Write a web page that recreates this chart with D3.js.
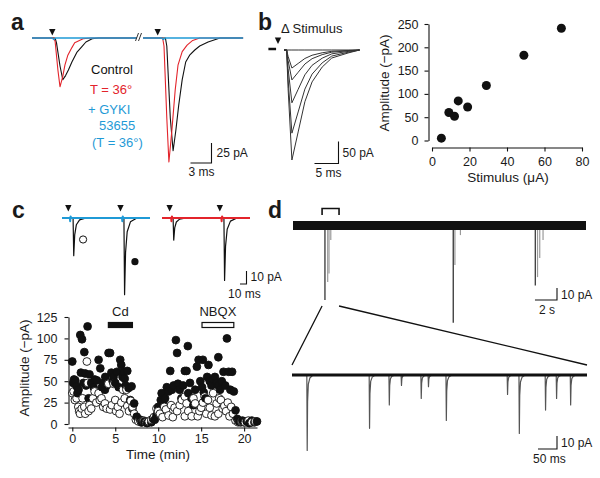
<!DOCTYPE html>
<html><head><meta charset="utf-8">
<script src="https://cdn.jsdelivr.net/npm/d3@7"></script>
<style>
body{margin:0;background:#fff}
svg{display:block}
text{font-family:"Liberation Sans",Arial,Helvetica,sans-serif;fill:#1a1a1a}
</style>
</head><body>
<svg id="fig" width="600" height="478"></svg>
<script>
// ---------------- DATA ----------------
const colors = {ctl:"#111111", warm:"#e3242b", gyki:"#1f9ad6", trace:"#333333"};
// Panel a: evoked EPSCs (time ms, current pA), two sweeps
const aCtl1T = [0,3.3,3.5,4.0,4.4,4.8,5.2,5.7,6.4,7.1,7.7,8.6,9.5,15];
const aCtl1V = [0,0,-6,-35,-52,-47,-40,-30,-18,-11,-5,-1,0,0];
const aRed1T = [0,3.1,3.3,3.7,4.0,4.4,4.7,5.1,5.7,6.1,7.3,8.5,15];
const aRed1V = [0,0,-4,-40,-61,-48,-34,-22,-12,-6,-1,0,0];
const aGyk1T = [0,2.9,3.1,3.4,15];
const aGyk1V = [0,0,-2,0,0];
const aCtl2T = [0,3.2,3.4,3.9,4.3,4.7,5.1,5.6,6.1,6.7,7.4,8.1,9.3,11,14.3];
const aCtl2V = [0,0,-10,-100,-141,-115,-84,-52,-30,-21,-15,-10,-5,0,0];
const aRed2T = [0,2.8,3.0,3.4,3.7,4.1,4.6,5.0,5.6,6.3,7.1,8.1,14.3];
const aRed2V = [0,0,-10,-100,-155,-118,-65,-34,-17,-9,-3,0,0];
const aGyk2T = [0,2.7,2.9,3.2,14.3];
const aGyk2V = [0,0,-2,0,0];
const aStim = [2.9, 2.1];
const aLegend = ["Control","T = 36°","+ GYKI","53655","(T = 36°)"];
// Panel b: traces at increasing stimulus
const bPeaks = [0, 41, 68, 120, 189, 250];
const bOnset = 1.8;
const bKernelT = [0,0.3,1.1,2.4,3.8,5.3,7.4,9.4,12.8,15.2];
const bKernelV = [0,0.35,1,0.745,0.47,0.29,0.155,0.073,0.027,0];
// Panel b: amplitude vs stimulus
const bStimulus = [5, 9, 12, 14, 19, 29, 49, 69];
const bAmplitude = [5, 60, 52, 85, 72, 118, 183, 241];
const bXTicks = [0,20,40,60,80];
const bYTicks = [0,50,100,150,200,250];
// Panel c: paired-pulse traces
const cStimBlue = [12, 92], cStimRed = [14, 91];
const cEventT = [17, 95];
const cBlueAmp = [29, 59], cRedAmp = [17, 48];
const cKernelT = [0,1,2.5,5,10,20];
const cKernelV = [0,1,0.45,0.18,0.05,0];
// Panel c: amplitude vs time (filled = 2nd response, open = 1st response)
const cFilledT = [0.0,0.1,0.2,0.35,0.5,0.6,0.73,0.93,1.0,1.13,1.3,1.4,1.5,1.6,1.78,1.9,2.0,2.2,2.48,2.6,2.87,3.06,3.26,3.45,3.6,3.8,3.84,4.0,4.22,4.4,4.55,4.7,4.8,5.0,5.2,5.4,5.58,5.7,5.85,5.97,6.1,6.2,6.4,6.55,6.74,6.9,7.0,7.2,7.5,7.7,7.9,8.1,8.4,8.7,8.9,9.2,9.4,9.6,9.8,10.0,10.3,10.4,10.6,10.8,11.0,11.2,11.4,11.6,11.8,12.06,12.2,12.3,12.5,12.7,12.9,13.1,13.3,13.45,13.5,13.7,13.9,14.1,14.3,14.5,14.7,14.9,15.1,15.2,15.3,15.5,15.7,15.85,16.0,16.2,16.4,16.6,16.8,17.0,17.0,17.2,17.4,17.6,17.8,18.0,18.2,18.4,18.6,18.8,19.0,19.2,19.4,19.6,19.8,20.0,20.3,20.6,20.9,21.2,21.5];
const cFilledA = [73,48,52,51,44,36,40,104,60,99,48,84,59,45,114,30,58,48,43,52,51,75,65,43,48,40,55,45,83,83,60,50,55,48,61,43,75,69,55,61,53,45,62,42,28,44,18,24,8.5,4,5,2,3,1,3,2,6,5,10,20,28,36,24,30,43,38,62,40,45,98,83,47,40,30,45,62,62,91,36,48,30,22,40,67,75,50,43,75,37,30,55,69,50,45,52,55,48,45,78,40,50,61,45,100,61,40,61,38,16,6,3,2,4,2,3,1,4,2,3];
const cOpenT = [0.0,0.15,0.3,0.5,0.7,0.8,0.9,1.1,1.2,1.4,1.5,1.7,1.8,1.9,2.0,2.2,2.4,2.6,2.8,3.06,3.2,3.4,3.6,3.8,4.0,4.2,4.4,4.6,4.8,5.0,5.1,5.3,5.5,5.7,5.9,6.1,6.3,6.4,6.6,6.8,7.0,7.2,7.4,7.7,8.0,8.3,8.6,8.9,9.2,9.5,9.8,10.0,10.2,10.5,10.7,10.9,11.2,11.5,11.7,11.9,12.2,12.5,12.75,13.1,13.1,13.3,13.5,13.9,14.1,14.3,14.6,14.8,15.0,15.2,15.4,15.6,15.8,16.0,16.2,16.4,16.6,16.8,17.0,17.1,17.3,17.5,17.7,17.9,18.1,18.3,18.5,18.7,19.0,19.3,19.7,20.1,20.5,20.9,21.3];
const cOpenA = [36,38,28,30,20,15,12,18,30,20,12,73,48,15,22,18,30,38,25,36,28,30,20,24,18,47,17,22,47,28,15,20,12,25,40,30,40,21,15,27,20,12,5,3,2,4,2,3,5,8,18,15,12,8,20,17,10,22,8,19,15,22,28,32,9,24,15,9,30,24,9,15,19,25,32,12,28,19,10,36,9,24,12,30,28,18,21,15,25,9,20,12,4,2,3,2,4,2,3];
const cDrugs = ["Cd","NBQX"];
const cDrugStart = [4.2, 15.1], cDrugEnd = [7.0, 18.8];
const cXTicks = [0,5,10,15,20];
const cYTicks = [0,25,50,75,100,125];
// Panel d: spontaneous events
const dTopT = [2.9, 3.15, 3.27, 3.43, 14.55, 14.7, 15.2, 22.0, 22.2, 22.4, 22.7];
const dTopA = [62, 47, 40, 12, 81, 33, 8, 50, 43, 27, 12];
const dTopMain = [1,0,0,0,1,0,0,1,0,0,0];
const dBracket = [2.64, 4.18];
const dBotT = [39, 203, 255, 287, 339, 358, 405, 566, 597, 666, 695, 732];
const dBotA = [58, 41, 23, 8, 18, 9, 35, 15, 45, 27, 18, 23];
const dKernelT = [0,1,2,4,8,16];
const dKernelV = [0,1,0.35,0.12,0.04,0];

// ---------------- HELPERS ----------------
const svg = d3.select("#fig");
const zip = (T,V) => T.map((t,i)=>[t,V[i]]);
function synth(onsets, amps, kT, kV, t0, tEnd){
  const span = kT[kT.length-1];
  let ts = [t0, tEnd];
  onsets.forEach(e => kT.forEach(k => ts.push(e+k)));
  ts = Array.from(new Set(ts)).filter(t=>t>=t0&&t<=tEnd).sort((a,b)=>a-b);
  const k = d3.scaleLinear().domain(kT).range(kV).clamp(true);
  return ts.map(t => [t, -d3.sum(onsets, (e,i) => (t>=e && t<=e+span) ? amps[i]*k(t-e) : 0)]);
}
function drawLine(pts, xs, ys, color, w){
  svg.append("path").datum(pts)
    .attr("d", d3.line().x(d=>xs(d[0])).y(d=>ys(d[1])))
    .attr("fill","none").attr("stroke",color).attr("stroke-width",w)
    .attr("stroke-linejoin","round");
}
function arrow(x, yTop){
  svg.append("path").attr("d",`M${x-3.2},${yTop}L${x+3.2},${yTop}L${x},${yTop+6.5}Z`).attr("fill","#111");
}
function txt(x,y,s,opt={}){
  return svg.append("text").attr("x",x).attr("y",y).text(s)
    .attr("font-size",opt.size||12).attr("text-anchor",opt.anchor||"start")
    .attr("font-weight",opt.weight||"normal").style("fill",opt.color||"#1a1a1a");
}
function scaleBar(x, y, w, h, lab1, lab2, p){
  svg.append("path").attr("d",`M${x-w},${y}H${x}V${y-h}`).attr("fill","none").attr("stroke","#111").attr("stroke-width",1.1);
  txt(x+p[0], y+p[1], lab1, {size:12});
  txt(x-w+p[2], y+p[3], lab2, {size:12});
}
function styleAxis(g){
  g.attr("font-family",null).attr("font-size",null);
  g.selectAll(".domain").attr("stroke","#111").attr("stroke-width",1.1);
  g.selectAll(".tick line").attr("stroke","#111").attr("stroke-width",1.1);
  g.selectAll(".tick text").attr("font-size",12.5).style("fill","#1a1a1a");
}

// ---------------- PANEL LABELS ----------------
[["a",11,30],["b",258,30],["c",12,218],["d",268,218]].forEach(d=>txt(d[1],d[2],d[0],{size:23,weight:"bold"}));

// ---------------- PANEL a ----------------
const xA1 = d3.scaleLinear().domain([0,15]).range([32,137]);
const xA2 = d3.scaleLinear().domain([0,14.3]).range([143,243.1]);
const yA = d3.scaleLinear().domain([0,-160]).range([38,166]);
drawLine(zip(aCtl1T,aCtl1V), xA1, yA, colors.ctl, 1.1);
drawLine(zip(aRed1T,aRed1V), xA1, yA, colors.warm, 1.1);
drawLine(zip(aGyk1T,aGyk1V), xA1, yA, colors.gyki, 1.3);
drawLine(zip(aCtl2T,aCtl2V), xA2, yA, colors.ctl, 1.1);
drawLine(zip(aRed2T,aRed2V), xA2, yA, colors.warm, 1.1);
drawLine(zip(aGyk2T,aGyk2V), xA2, yA, colors.gyki, 1.3);
arrow(xA1(aStim[0]), 29); arrow(xA2(aStim[1]), 29);
// axis break
svg.append("path").attr("d","M135.5,41L138.5,33M138.5,41L141.5,33").attr("stroke","#333").attr("stroke-width",1);
const legendCol = [colors.ctl, colors.warm, colors.gyki, colors.gyki, colors.gyki];
const legendX = [91, 90, 88, 99, 92], legendY = [74, 94, 114, 130, 147];
aLegend.forEach((s,i)=>txt(legendX[i], legendY[i], s, {size:13, color:legendCol[i]}));
scaleBar(211.5, 163, xA1(3)-xA1(0), yA(-25)-yA(0), "25 pA", "3 ms", [5,-6,-2,13]);

// ---------------- PANEL b traces ----------------
const xB = d3.scaleLinear().domain([0,17]).range([278,359.6]);
const yB = d3.scaleLinear().domain([0,-250]).range([50,160]);
bPeaks.forEach(p => drawLine(synth([bOnset],[p],bKernelT,bKernelV,1.25,17), xB, yB, colors.trace, 1));
svg.append("path").attr("d",`M${xB(-2)},${yB(0)-1}H${xB(-0.4)}`).attr("stroke","#111").attr("stroke-width",2.5);
arrow(xB(0), 37.5);
txt(281, 33, "\u0394 Stimulus", {size:13});
scaleBar(338.5, 163.5, xB(5)-xB(0), yB(-50)-yB(0), "50 pA", "5 ms", [4,-7,1,13.5]);

// ---------------- PANEL b scatter ----------------
const xBS = d3.scaleLinear().domain([0,80]).range([432,582]);
const yBS = d3.scaleLinear().domain([0,250]).range([140.5,24]);
styleAxis(svg.append("g").attr("transform","translate(0,147.5)")
  .call(d3.axisBottom(xBS).tickValues(bXTicks).tickSize(4).tickSizeOuter(0).tickPadding(6)));
styleAxis(svg.append("g").attr("transform","translate(428.5,0)")
  .call(d3.axisLeft(yBS).tickValues(bYTicks).tickSize(4).tickSizeOuter(0).tickPadding(6)));
svg.append("g").selectAll("circle").data(bStimulus).join("circle")
  .attr("cx",d=>xBS(d)).attr("cy",(d,i)=>yBS(bAmplitude[i])).attr("r",4.5).attr("fill","#111");
txt(508, 182, "Stimulus (\u03bcA)", {size:13.5, anchor:"middle"});
txt(0,0,"Amplitude (\u2212pA)",{size:13.5,anchor:"middle"}).attr("transform","translate(389,83) rotate(-90)");

// ---------------- PANEL c traces ----------------
const xC1 = d3.scaleLinear().domain([0,135]).range([62,150]);
const xC2 = d3.scaleLinear().domain([0,135]).range([162,250]);
const yC = d3.scaleLinear().domain([0,-60]).range([218,296]);
drawLine(synth(cEventT,cBlueAmp,cKernelT,cKernelV,0,135), xC1, yC, "#111", 1.2);
drawLine(synth(cEventT,cRedAmp,cKernelT,cKernelV,0,135), xC2, yC, "#111", 1.2);
const artifact = s => [[0,0]].concat(...s.map(t=>[[t,0],[t+0.5,-2.5],[t+1.2,1.2],[t+2,0]]), [[135,0]]);
drawLine(artifact(cStimBlue), xC1, yC, colors.gyki, 2);
drawLine(artifact(cStimRed), xC2, yC, colors.warm, 2);
cStimBlue.forEach(t=>arrow(xC1(t)-1.5, 205));
cStimRed.forEach(t=>arrow(xC2(t)-1.5, 205));
svg.append("circle").attr("cx",xC1(cEventT[0])+10).attr("cy",yC(-cBlueAmp[0]*0.57)).attr("r",3.6).attr("fill","#fff").attr("stroke","#111").attr("stroke-width",1);
svg.append("circle").attr("cx",xC1(cEventT[1])+11).attr("cy",yC(-cBlueAmp[1]*0.57)).attr("r",3.6).attr("fill","#111");
scaleBar(246.5, 284, xC1(10)-xC1(0), yC(-10)-yC(0), "10 pA", "10 ms", [4,-3,-12,13.5]);

// ---------------- PANEL c scatter ----------------
const xCS = d3.scaleLinear().domain([-0.5,21.5]).range([68,257]);
const yCS = d3.scaleLinear().domain([0,125]).range([424,317]);
styleAxis(svg.append("g").attr("transform","translate(0,427.5)")
  .call(d3.axisBottom(xCS).tickValues(cXTicks).tickSize(4).tickSizeOuter(0).tickPadding(3)));
styleAxis(svg.append("g").attr("transform","translate(68.5,0)")
  .call(d3.axisLeft(yCS).tickValues(cYTicks).tickSize(4).tickSizeOuter(0).tickPadding(7)));
const cPts = cFilledT.map((t,i)=>({t, a:cFilledA[i], f:1})).concat(cOpenT.map((t,i)=>({t, a:cOpenA[i], f:0})))
  .sort((p,q)=>p.t-q.t);
svg.append("g").selectAll("circle").data(cPts).join("circle")
  .attr("cx",d=>xCS(d.t)).attr("cy",d=>yCS(d.a)).attr("r",3.9)
  .attr("fill",d=>d.f?"#111":"#fff").attr("stroke","#111").attr("stroke-width",0.9);
cDrugs.forEach((s,i)=>{
  svg.append("rect").attr("x",xCS(cDrugStart[i])).attr("y",322.5).attr("width",xCS(cDrugEnd[i])-xCS(cDrugStart[i])).attr("height",5)
    .attr("fill", i===0?"#111":"#fff").attr("stroke","#111").attr("stroke-width",1.2);
  txt((xCS(cDrugStart[i])+xCS(cDrugEnd[i]))/2, 315.5, s, {size:13, anchor:"middle"});
});
txt(158, 459, "Time (min)", {size:13.5, anchor:"middle"});
txt(0,0,"Amplitude (\u2212pA)",{size:13.5,anchor:"middle"}).attr("transform","translate(29,368) rotate(-90)");

// ---------------- PANEL d ----------------
const xD1 = d3.scaleLinear().domain([0,26.6]).range([293,586]);
const yD1 = d3.scaleLinear().domain([0,-85]).range([225.5,327.5]);
svg.append("g").selectAll("line").data(dTopT).join("line")
  .attr("x1",d=>xD1(d)).attr("x2",d=>xD1(d)).attr("y1",yD1(0)).attr("y2",(d,i)=>yD1(-dTopA[i]))
  .attr("stroke",(d,i)=>dTopMain[i]?"#444":"#9a9a9a").attr("stroke-width",(d,i)=>dTopMain[i]?1.4:1.2);
svg.append("path").attr("d",`M${xD1(0)},${yD1(0)}H${xD1(26.6)}`).attr("stroke","#111").attr("stroke-width",9);
svg.append("path").attr("d",`M${xD1(dBracket[0])},215V208.5H${xD1(dBracket[1])}V215`).attr("fill","none").attr("stroke","#111").attr("stroke-width",1.6);
scaleBar(557, 300, xD1(2)-xD1(0), yD1(-10)-yD1(0), "10 pA", "2 s", [4,-1,4,13.5]);

const xD2 = d3.scaleLinear().domain([0,776]).range([292,587]);
const yD2 = d3.scaleLinear().domain([0,-60]).range([375,453]);
drawLine(synth(dBotT,dBotA,dKernelT,dKernelV,0,776), xD2, yD2, "#555", 1.2);
svg.append("path").attr("d",`M${xD2(0)},${yD2(0)}H${xD2(776)}`).attr("stroke","#111").attr("stroke-width",3);
// zoom lines
svg.append("path").attr("d",`M${xD1(dBracket[0])},306L${xD2(0)},365M${xD1(dBracket[1])},306L${xD2(776)},365`)
  .attr("stroke","#111").attr("stroke-width",1.3).attr("fill","none");
scaleBar(557, 449, xD2(50)-xD2(0), yD2(-10)-yD2(0), "10 pA", "50 ms", [4,-2,-5,14]);
</script>
</body></html>
